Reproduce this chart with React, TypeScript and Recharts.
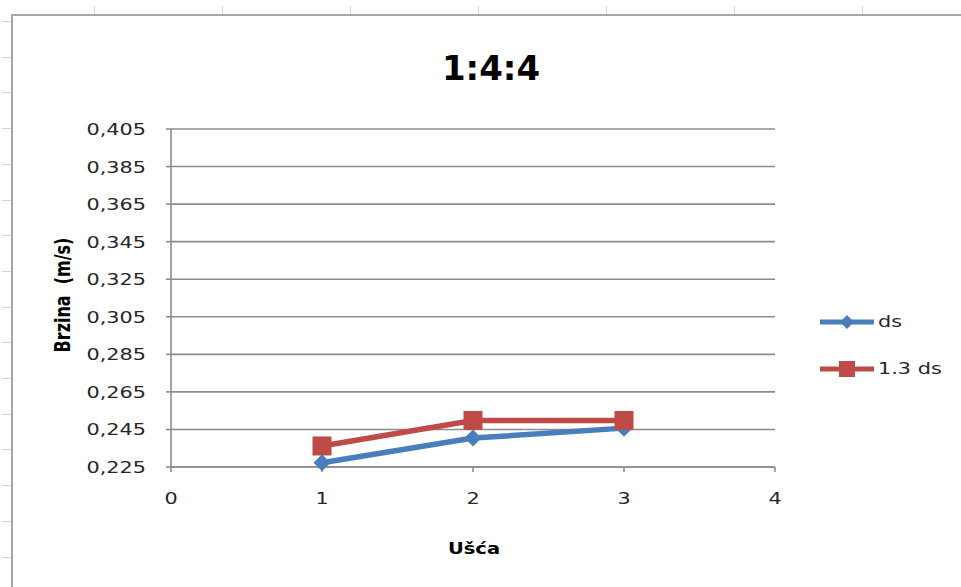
import React from "react";
import {
  LineChart,
  Line,
  XAxis,
  YAxis,
  CartesianGrid,
  Legend,
  Label
} from "recharts";

// Excel-style chart "1:4:4"
const ucsa = [1, 2, 3];
const dsValues = [0.2273, 0.2404, 0.2457];
const ds13Values = [0.2362, 0.2498, 0.2498];
const xTicks = [0, 1, 2, 3, 4];
const yTicks = [0.225, 0.245, 0.265, 0.285, 0.305, 0.325, 0.345, 0.365, 0.385, 0.405];

const BLUE = "#4A7EBB";
const RED = "#BE4B48";
const GRID = "#8c8c8c";
const FONT = "'DejaVu Sans', 'Noto Sans', sans-serif";
const LEGEND_W = 140;

const data = ucsa.map((u, i) => ({ u, ds: dsValues[i], ds13: ds13Values[i] }));

const series = [
  { key: "ds", name: "ds", color: BLUE, shape: "diamond" },
  { key: "ds13", name: "1.3 ds", color: RED, shape: "square" }
];

function Marker({ cx, cy, shape, color, r }: { cx: number; cy: number; shape: string; color: string; r: number }) {
  if (shape === "square") {
    return <rect x={cx - r} y={cy - r} width={2 * r} height={2 * r} fill={color} />;
  }
  return (
    <polygon
      points={`${cx},${cy - r} ${cx + r},${cy} ${cx},${cy + r} ${cx - r},${cy}`}
      fill={color}
    />
  );
}

function YTick(props: any) {
  const { x, y, payload } = props;
  return (
    <g transform={`translate(${x},${y})`}>
      <text
        textAnchor="end"
        dy={6}
        transform="scale(1.3,1)"
        fontFamily={FONT}
        fontSize={16}
        fill="#262626"
      >
        {Number(payload.value).toFixed(3).replace(".", ",")}
      </text>
    </g>
  );
}

function XTick(props: any) {
  const { x, y, payload } = props;
  return (
    <g transform={`translate(${x},${y})`}>
      <text
        textAnchor="middle"
        dy={14}
        transform="scale(1.3,1)"
        fontFamily={FONT}
        fontSize={16}
        fill="#262626"
      >
        {payload.value}
      </text>
    </g>
  );
}

function LegendBox() {
  return (
    <div style={{ fontFamily: FONT }}>
      {series.map((s) => (
        <div key={s.key} style={{ display: "flex", alignItems: "center", height: 47 }}>
          <svg width={60} height={20}>
            <line x1={2} y1={10} x2={56} y2={10} stroke={s.color} strokeWidth={5} />
            <Marker cx={29} cy={10} shape={s.shape} color={s.color} r={s.shape === "square" ? 8 : 7} />
          </svg>
          <span
            style={{
              fontSize: 16,
              color: "#262626",
              display: "inline-block",
              transform: "scaleX(1.3)",
              transformOrigin: "left center"
            }}
          >
            {s.name}
          </span>
        </div>
      ))}
    </div>
  );
}

export default function App() {
  const colTicks = Array.from({ length: 7 }, (_, i) => 94 + 128 * i);
  const rowTicks = Array.from({ length: 16 }, (_, i) => 21 + 35.7 * i);

  return (
    <div
      style={{
        position: "absolute",
        left: 0,
        top: 0,
        width: 961,
        height: 587,
        overflow: "hidden",
        background: "#fff"
      }}
    >
      {colTicks.map((x) => (
        <div
          key={"c" + x}
          style={{ position: "absolute", left: x, top: 6, width: 1, height: 9, background: "#d4d4d4" }}
        />
      ))}
      {rowTicks.map((y) => (
        <div
          key={"r" + y}
          style={{ position: "absolute", left: 2, top: y, width: 9, height: 1, background: "#d4d4d4" }}
        />
      ))}
      <div
        style={{
          position: "absolute",
          left: 11,
          top: 14,
          width: 980,
          height: 600,
          borderLeft: "2px solid #a5a5a5",
          borderTop: "2px solid #a5a5a5",
          background: "#fff"
        }}
      />
      <div
        style={{
          position: "absolute",
          left: 0,
          top: 48,
          width: 982,
          textAlign: "center",
          fontFamily: FONT,
          fontWeight: "bold",
          fontSize: 34,
          color: "#000"
        }}
      >
        1:4:4
      </div>
      <div style={{ position: "absolute", left: 0, top: 0 }}>
        <LineChart
          width={961}
          height={587}
          data={data}
          margin={{ top: 129, right: 186 - LEGEND_W, left: 0, bottom: 90 }}
        >
          <CartesianGrid vertical={false} stroke={GRID} strokeWidth={1.6} />
          <XAxis
            dataKey="u"
            type="number"
            domain={[0, 4]}
            ticks={xTicks}
            height={30}
            stroke={GRID}
            strokeWidth={1.6}
            tickSize={5}
            tickMargin={18}
            tick={<XTick />}
          >
            <Label
              content={() => (
                <text
                  transform="translate(474,554) scale(1.3,1)"
                  textAnchor="middle"
                  fontFamily={FONT}
                  fontWeight="bold"
                  fontSize={15}
                  fill="#000"
                >
                  Ušća
                </text>
              )}
            />
          </XAxis>
          <YAxis
            type="number"
            domain={[0.225, 0.405]}
            ticks={yTicks}
            width={171}
            stroke={GRID}
            strokeWidth={1.6}
            tickSize={5}
            tickMargin={20}
            tick={<YTick />}
          >
            <Label
              content={() => (
                <text
                  transform="translate(70,295) rotate(-90) scale(1,1.3)"
                  textAnchor="middle"
                  fontFamily={FONT}
                  fontWeight="bold"
                  fontSize={16}
                  fill="#000"
                >
                  {"Brzina\u00a0 (m/s)"}
                </text>
              )}
            />
          </YAxis>
          <Legend
            layout="vertical"
            align="right"
            verticalAlign="top"
            content={() => <LegendBox />}
            wrapperStyle={{ position: "absolute", left: 818, top: 298, width: LEGEND_W }}
          />
          {series.map((s) => (
            <Line
              key={s.key}
              type="linear"
              dataKey={s.key}
              name={s.name}
              stroke={s.color}
              strokeWidth={5.5}
              isAnimationActive={false}
              dot={(p: any) => (
                <Marker
                  key={s.key + p.index}
                  cx={p.cx}
                  cy={p.cy}
                  shape={s.shape}
                  color={s.color}
                  r={s.shape === "square" ? 9.5 : 8.5}
                />
              )}
              activeDot={false}
            />
          ))}
        </LineChart>
      </div>
    </div>
  );
}
